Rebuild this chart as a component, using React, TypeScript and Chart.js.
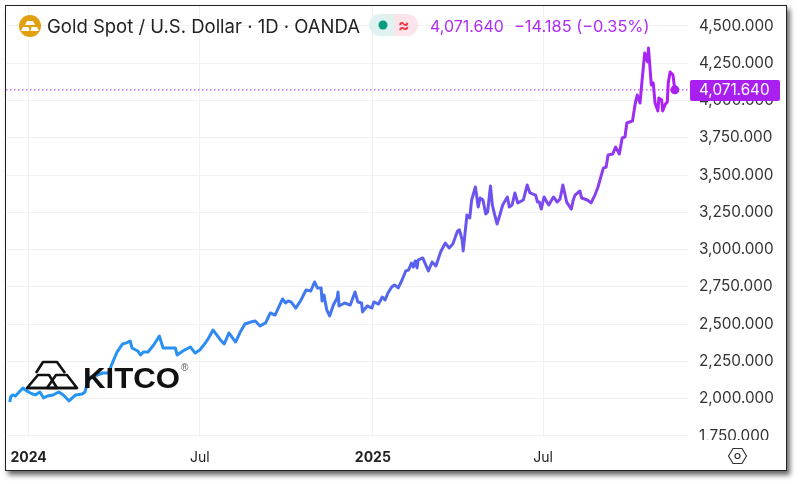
import React, { useEffect, useRef } from "react";
import { Chart, registerables } from "chart.js";

Chart.register(...registerables);

const FONT = "Inter, 'Noto Sans', sans-serif";
const titleText = "Gold Spot / U.S. Dollar · 1D · OANDA";
const lastText = "4,071.640";
const changeText = "−14.185 (−0.35%)";

const xTickDays = [0, 182, 366, 547];
const xTickLabels = ["2024", "Jul", "2025", "Jul"];
const yTickValues = [1750, 2000, 2250, 2500, 2750, 3000, 3250, 3500, 3750, 4000, 4250, 4500];
const lastPrice = 4071.64;

// days since 2024-01-01
const days = [
  -20, -19, -17, -14, -11, -6, -2, 2, 7, 12, 16, 20, 26, 32, 37, 43, 50, 57, 60, 62, 66, 73, 79, 85, 89, 94, 100, 104,
  108, 110, 116, 119, 122, 127, 133, 139, 143, 148, 156, 158, 164, 172, 177, 182, 188, 192, 196, 204, 208, 213, 220,
  225, 230, 236, 241, 246, 252, 257, 262, 270, 273, 276, 279, 284, 289, 295, 300, 304, 307, 311, 312, 314, 317, 320,
  324, 328, 329, 330, 336, 342, 347, 350, 354, 355, 360, 365, 367, 372, 376, 379, 382, 386, 389, 393, 397, 401, 404,
  407, 409, 411, 413, 414, 419, 425, 429, 433, 438, 443, 447, 451, 456, 458, 461, 462, 464, 466, 469, 471, 475, 478,
  480, 483, 486, 488, 491, 493, 495, 498, 501, 504, 509, 511, 514, 517, 520, 526, 530, 533, 539, 541, 543, 545, 548,
  551, 553, 558, 562, 565, 568, 572, 577, 579, 581, 586, 588, 594, 598, 602, 605, 611, 614, 616, 621, 624, 628, 631,
  634, 636, 642, 645, 647, 650, 652, 655, 658, 659, 662, 664, 666, 669, 670, 673, 674, 677, 679, 680, 682, 685, 687,
];
const prices = [
  1978, 2011, 2025, 2018, 2038, 2072, 2052, 2038, 2025, 2045, 2005, 2018, 2025, 2045, 2025, 1985, 2025, 2031, 2045,
  2092, 2146, 2159, 2172, 2172, 2239, 2313, 2367, 2374, 2387, 2340, 2320, 2293, 2313, 2313, 2360, 2420, 2340, 2340,
  2340, 2293, 2320, 2347, 2306, 2327, 2374, 2414, 2461, 2394, 2367, 2441, 2380, 2447, 2501, 2514, 2521, 2488, 2508,
  2575, 2561, 2669, 2642, 2655, 2649, 2608, 2655, 2729, 2722, 2783, 2743, 2743, 2655, 2696, 2595, 2555, 2628, 2675,
  2716, 2622, 2642, 2628, 2716, 2649, 2642, 2582, 2622, 2608, 2649, 2635, 2682, 2662, 2709, 2749, 2763, 2743, 2796,
  2857, 2863, 2910, 2883, 2924, 2877, 2930, 2944, 2857, 2917, 2890, 2984, 3044, 3011, 3038, 3125, 3132, 3064, 2991,
  3111, 3232, 3212, 3333, 3420, 3286, 3346, 3333, 3239, 3252, 3427, 3299, 3246, 3172, 3232, 3299, 3353, 3286, 3299,
  3380, 3313, 3333, 3433, 3380, 3366, 3319, 3319, 3272, 3353, 3319, 3299, 3353, 3319, 3339, 3433, 3319, 3272, 3333,
  3366, 3393, 3346, 3333, 3313, 3366, 3413, 3547, 3554, 3635, 3641, 3688, 3641, 3749, 3755, 3849, 3863, 3983, 4037,
  3983, 4124, 4319, 4259, 4352, 4104, 4118, 3983, 3930, 4017, 4004, 3930, 3977, 3990, 4118, 4191, 4171, 4071.64,
];

const fmt = (v: number) =>
  v.toLocaleString("en-US", { minimumFractionDigits: 3, maximumFractionDigits: 3 });

const txt = (left: number, top: number, size: number, color: string, extra: any = {}): React.CSSProperties => ({
  position: "absolute",
  left,
  top,
  fontFamily: FONT,
  fontSize: size,
  color,
  lineHeight: "20px",
  whiteSpace: "nowrap",
  ...extra,
});

export default function App() {
  const ref = useRef<HTMLCanvasElement>(null);

  useEffect(() => {
    const clipPlugin = {
      id: "clipAxis",
      afterDraw(chart: any) {
        chart.ctx.save();
        chart.ctx.fillStyle = "#fff";
        chart.ctx.fillRect(690, 440, 92, 6);
        chart.ctx.restore();
      },
    };
    const chart = new Chart(ref.current!, {
      type: "line",
      plugins: [clipPlugin],
      data: {
        datasets: [
          {
            data: [
              { x: -24, y: lastPrice },
              { x: 701, y: lastPrice },
            ],
            borderColor: "#b030f0",
            borderWidth: 1,
            borderDash: [1.5, 2.5],
            pointRadius: 0,
          },
          {
            data: days.map((d, i) => ({ x: d, y: prices[i] })),
            borderWidth: 3,
            tension: 0,
            borderJoinStyle: "round",
            borderColor: (c: any) => {
              const area = c.chart.chartArea;
              if (!area) return "#2196f3";
              const g = c.chart.ctx.createLinearGradient(9, 0, 675, 0);
              g.addColorStop(0, "#2196f3");
              g.addColorStop(0.28, "#2a8ff0");
              g.addColorStop(0.45, "#3f78f0");
              g.addColorStop(0.7, "#6a55ee");
              g.addColorStop(0.88, "#8a3ff0");
              g.addColorStop(1, "#b41af5");
              return g;
            },
            pointRadius: (c: any) => (c.dataIndex === days.length - 1 ? 4.5 : 0),
            pointBackgroundColor: "#a91ff0",
            pointBorderWidth: 0,
          },
        ],
      },
      options: {
        animation: false,
        responsive: false,
        layout: { padding: { left: 6, top: 6, right: 22, bottom: 17 } },
        plugins: { legend: { display: false }, title: { display: false }, tooltip: { enabled: false } },
        scales: {
          x: {
            type: "linear",
            min: -24,
            max: 701,
            border: { display: false },
            grid: { color: "#f1f1f3", lineWidth: 1, drawTicks: false },
            afterBuildTicks: (s: any) => {
              s.ticks = xTickDays.map((value) => ({ value }));
            },
            afterFit: (s: any) => {
              s.height = 30;
              s.paddingLeft = 0;
              s.paddingRight = 0;
            },
            ticks: {
              autoSkip: false,
              maxRotation: 0,
              padding: 12,
              color: "#222",
              font: (c: any) => ({
                family: FONT,
                size: 14,
                weight: xTickLabels[c.index] === "Jul" ? "normal" : "bold",
              }),
              callback: (_v: any, i: number) => xTickLabels[i],
            },
          },
          y: {
            position: "right",
            min: 1743,
            max: 4634,
            border: { display: false },
            grid: { color: "#f1f1f3", lineWidth: 1, drawTicks: false },
            afterBuildTicks: (s: any) => {
              s.ticks = yTickValues.map((value) => ({ value }));
            },
            afterFit: (s: any) => {
              s.width = 90;
              s.paddingTop = 0;
              s.paddingBottom = 0;
            },
            ticks: {
              autoSkip: false,
              padding: 11,
              color: "#333",
              font: { family: FONT, size: 15.3 },
              callback: (v: any) => fmt(Number(v)),
            },
          },
        },
      } as any,
    });
    return () => chart.destroy();
  }, []);

  return (
    <div style={{ position: "fixed", left: 0, top: 0, width: 800, height: 484, background: "#fff", overflow: "hidden" }}>
      <div
        style={{
          position: "absolute",
          left: 5,
          top: 5,
          width: 780,
          height: 464,
          border: "1px solid #222",
          background: "#fff",
          boxShadow: "3px 4px 5px rgba(0,0,0,0.6)",
        }}
      />
      <canvas ref={ref} width={800} height={484} style={{ position: "absolute", left: 0, top: 0, width: 800, height: 484 }} />

      <svg width={800} height={484} style={{ position: "absolute", left: 0, top: 0 }}>
        <circle cx={30} cy={26} r={11} fill="#e2a00f" />
        <path d="M27 21 L33 21 L35 25 L25 25 Z M23 27 L28.5 27 L29.5 31 L21 31 Z M31.5 27 L37 27 L39 31 L30.5 31 Z" fill="#fff" />
        <path d="M394 14 H380 A11 11 0 0 0 380 36 H394 Z" fill="#e0f2ef" />
        <path d="M394 14 H407 A11 11 0 0 1 407 36 H394 Z" fill="#fde4ea" />
        <circle cx={383} cy={25} r={4.5} fill="#089981" />
        <g fill="none" stroke="#111" strokeWidth={2.6} strokeLinejoin="round">
          <path d="M36 373 L43 362 L57 362 L65 373" />
          <path d="M27 388 L38 375 L49 375 L57 388 Z" />
          <path d="M47 388 L56 375 L67 375 L77 388 Z" />
          <path d="M27 388 H77" />
        </g>
        <text x={83} y={388} fontFamily="'Liberation Sans', sans-serif" fontWeight="bold" fontSize={29} fill="#111" textLength={97} lengthAdjust="spacingAndGlyphs">
          KITCO
        </text>
        <text x={181} y={371} fontFamily="'Liberation Sans', sans-serif" fontSize={10} fill="#555">
          ®
        </text>
        <rect x={690} y={80} width={90} height={21} rx={2} fill="#a91ff0" />
        <path d="M729 456 L733.5 448.5 L742.5 448.5 L747 456 L742.5 463.5 L733.5 463.5 Z" fill="none" stroke="#333" strokeWidth={1.2} transform="translate(-0.5 0)" />
        <circle cx={737.5} cy={456} r={2.5} fill="none" stroke="#333" strokeWidth={1.2} />
      </svg>

      <div style={txt(47, 16, 18.5, "#222")}>{titleText}</div>
      <div style={txt(398, 15, 17, "#f23645", { fontWeight: 700 })}>≈</div>
      <div style={txt(430, 16, 16, "#b02cf5")}>{lastText}</div>
      <div style={txt(514, 16, 16.4, "#b02cf5")}>{changeText}</div>
      <div style={txt(699, 80, 15.3, "#fff")}>{lastText}</div>
    </div>
  );
}
